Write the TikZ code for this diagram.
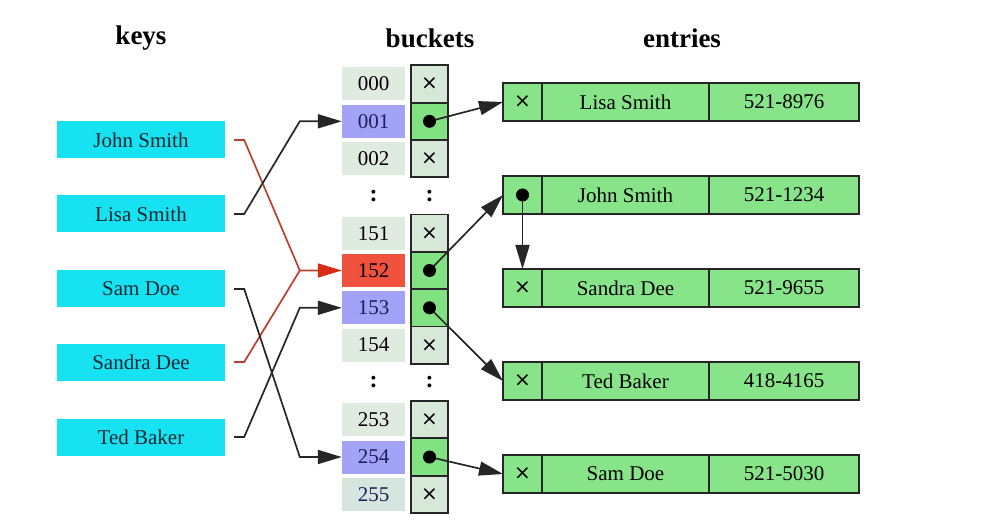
\documentclass[tikz,border=0pt]{standalone}
\usepackage{fontspec}
\setmainfont{Liberation Serif}
\newfontfamily\crossfont{DejaVu Sans}
\usetikzlibrary{arrows.meta}

\definecolor{keycyan}{RGB}{22,226,242}
\definecolor{keytext}{RGB}{20,40,50}
\definecolor{idxgray}{RGB}{222,235,222}
\definecolor{idxlast}{RGB}{214,229,222}
\definecolor{idxblue}{RGB}{162,162,246}
\definecolor{idxred}{RGB}{240,82,62}
\definecolor{bluetext}{RGB}{30,30,90}
\definecolor{cellgray}{RGB}{216,232,216}
\definecolor{cellgreen}{RGB}{130,226,130}
\definecolor{entrygreen}{RGB}{136,228,136}
\definecolor{redline}{RGB}{185,65,45}
\definecolor{redtip}{RGB}{215,45,20}

% the empty-pointer mark, dropped a little onto the cell's centre line
\newcommand{\nullmark}{\raisebox{-1.5pt}{×}}

\begin{document}
\begin{tikzpicture}[x=1pt,y=-1pt,
  title/.style={font=\fontsize{27}{30}\selectfont\bfseries},
  keybox/.style={fill=keycyan, text=keytext, minimum width=168pt, minimum height=37pt,
    inner sep=0pt, font=\fontsize{21}{24}\selectfont},
  idx/.style={fill=idxgray, minimum width=63pt, minimum height=33pt, inner sep=0pt,
    font=\fontsize{21}{24}\selectfont},
  idxb/.style={idx, fill=idxblue, text=bluetext},
  idxr/.style={idx, fill=idxred},
  ptrx/.style={draw=black!85, line width=1.8pt, fill=cellgray, minimum width=37pt,
    minimum height=37.3pt, inner sep=0pt, outer sep=0pt, font=\crossfont\fontsize{20}{22}\selectfont},
  ptrd/.style={ptrx, fill=cellgreen},
  ecell/.style={draw=black!85, line width=1.8pt, fill=entrygreen, minimum height=38pt,
    inner sep=0pt, outer sep=0pt, font=\fontsize{21}{24}\selectfont},
  xmark/.style={font=\crossfont\fontsize{20}{22}\selectfont},
  vdots/.style={font=\fontsize{24}{26}\selectfont\bfseries},
  tipstyle/.style={-{Triangle[length=24pt,width=14pt]}},
  keyline/.style={line width=1.7pt, draw=black!85},
  redkey/.style={line width=1.7pt, draw=redline},
  ptrline/.style={line width=1.7pt, draw=black!85, tipstyle},
]
\useasboundingbox (0,0) rectangle (985,521);

% column headings
\node[title] (hkeys) at (141,38) {keys};
\node[title] (hbuckets) at (430,38) {buckets};
\node[title] (hentries) at (682,38) {entries};

% keys
\node[keybox] (kjohn)   at (141,140) {John Smith};
\node[keybox] (klisa)   at (141,214) {Lisa Smith};
\node[keybox] (ksam)    at (141,289) {Sam Doe};
\node[keybox] (ksandra) at (141,362) {Sandra Dee};
\node[keybox] (kted)    at (141,437) {Ted Baker};

% bucket indices
\node[idx]  (i000) at (373.5,84)    {000};
\node[idxb] (i001) at (373.5,121.3) {001};
\node[idx]  (i002) at (373.5,158.6) {002};
\node[idx]  (i151) at (373.5,233.2) {151};
\node[idxr] (i152) at (373.5,270.5) {152};
\node[idxb] (i153) at (373.5,307.8) {153};
\node[idx]  (i154) at (373.5,345.1) {154};
\node[idx]  (i253) at (373.5,419.7) {253};
\node[idxb] (i254) at (373.5,457)   {254};
\node[idx, fill=idxlast, text=bluetext] (i255) at (373.5,494.3) {255};

% bucket pointer cells
\node[ptrx] (p000) at (429.5,84)    {\nullmark};
\node[ptrd] (p001) at (429.5,121.3) {};
\node[ptrx] (p002) at (429.5,158.6) {\nullmark};
\node[ptrx] (p151) at (429.5,233.2) {\nullmark};
\node[ptrd] (p152) at (429.5,270.5) {};
\node[ptrd] (p153) at (429.5,307.8) {};
\node[ptrx] (p154) at (429.5,345.1) {\nullmark};
\node[ptrx] (p253) at (429.5,419.7) {\nullmark};
\node[ptrd] (p254) at (429.5,457)   {};
\node[ptrx] (p255) at (429.5,494.3) {\nullmark};

% elided rows
\node[vdots] (d1a) at (373.5,195.9) {:};
\node[vdots] (d1b) at (429.5,195.9) {:};
\node[vdots] (d2a) at (373.5,382.4) {:};
\node[vdots] (d2b) at (429.5,382.4) {:};

% entries
\node[ecell, xmark, minimum width=39pt] (e1p) at (522.5,102) {\nullmark};
\node[ecell, minimum width=167pt, anchor=west] (e1n) at (e1p.east) {Lisa Smith};
\node[ecell, minimum width=150pt, anchor=west] (e1t) at (e1n.east) {521-8976};

\node[ecell, minimum width=39pt] (e2p) at (522.5,195) {};
\node[ecell, minimum width=167pt, anchor=west] (e2n) at (e2p.east) {John Smith};
\node[ecell, minimum width=150pt, anchor=west] (e2t) at (e2n.east) {521-1234};

\node[ecell, xmark, minimum width=39pt] (e3p) at (522.5,288) {\nullmark};
\node[ecell, minimum width=167pt, anchor=west] (e3n) at (e3p.east) {Sandra Dee};
\node[ecell, minimum width=150pt, anchor=west] (e3t) at (e3n.east) {521-9655};

\node[ecell, xmark, minimum width=39pt] (e4p) at (522.5,381) {\nullmark};
\node[ecell, minimum width=167pt, anchor=west] (e4n) at (e4p.east) {Ted Baker};
\node[ecell, minimum width=150pt, anchor=west] (e4t) at (e4n.east) {418-4165};

\node[ecell, xmark, minimum width=39pt] (e5p) at (522.5,474) {\nullmark};
\node[ecell, minimum width=167pt, anchor=west] (e5n) at (e5p.east) {Sam Doe};
\node[ecell, minimum width=150pt, anchor=west] (e5t) at (e5n.east) {521-5030};

% hash function: keys to buckets
\coordinate (join152) at ([xshift=-42pt]i152.west);
\draw[redkey] ([xshift=9pt]ksandra.east) -- ++(10,0) -- (join152);
\draw[redkey, -{Triangle[length=24pt,width=14pt,color=redtip]}]
  ([xshift=9pt]kjohn.east) -- ++(10,0) -- (join152) -- (i152.west);
\draw[keyline, tipstyle] ([xshift=9pt]klisa.east) -- ++(10,0)
  -- ([xshift=-42pt]i001.west) -- (i001.west);
\draw[keyline, tipstyle] ([xshift=9pt]ksam.east) -- ++(10,0)
  -- ([xshift=-42pt]i254.west) -- (i254.west);
\draw[keyline, tipstyle] ([xshift=9pt]kted.east) -- ++(10,0)
  -- ([xshift=-42pt]i153.west) -- (i153.west);

% bucket pointers to entry chains
\draw[ptrline] (p001.center) -- (e1p.west);
\draw[ptrline] (p152.center) -- (e2p.west);
\draw[ptrline] (p153.center) -- (e4p.west);
\draw[ptrline] (p254.center) -- (e5p.west);
\draw[ptrline] (e2p.center) -- (e3p.north);

% pointer dots
\foreach \p in {p001,p152,p153,p254,e2p}
  \fill (\p.center) circle (6.5pt);
\end{tikzpicture}
\end{document}
